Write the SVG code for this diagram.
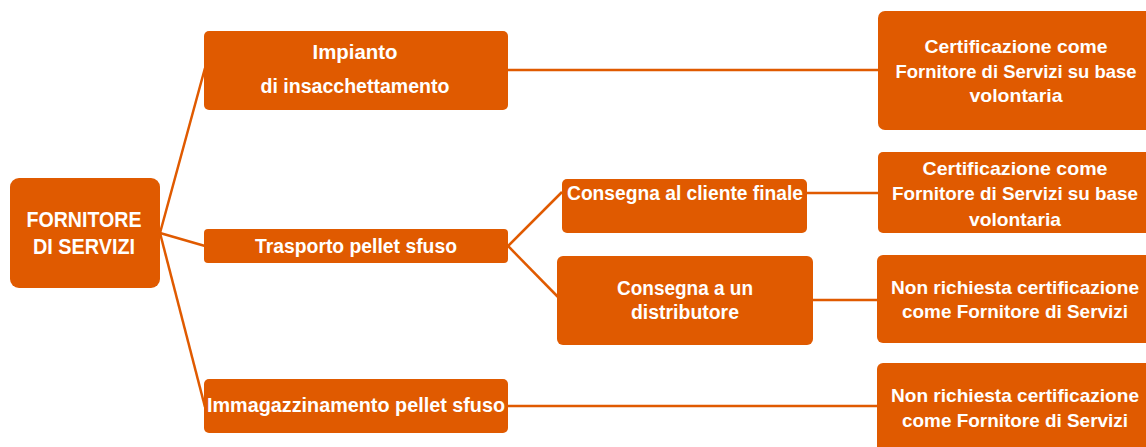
<svg xmlns="http://www.w3.org/2000/svg" width="1146" height="447" viewBox="0 0 1146 447">
<style>
.box{fill:#E05A00;}
.t{font-family:"Liberation Sans",Arial,sans-serif;font-weight:bold;font-size:20px;fill:#FFFFFF;text-anchor:middle;}
.big{font-size:22px;}
.r{font-size:18.5px;}
.ln{stroke:#E05A00;stroke-width:2.5;fill:none;}
</style>
<rect width="1146" height="447" fill="#FFFFFF"/>
<g id="connectors">
<line class="ln" x1="160" y1="233" x2="205" y2="68"/>
<line class="ln" x1="160" y1="233" x2="205" y2="246"/>
<line class="ln" x1="160" y1="233" x2="205" y2="407"/>
<line class="ln" x1="508" y1="246" x2="562" y2="192"/>
<line class="ln" x1="508" y1="246" x2="558" y2="297"/>
<line class="ln" x1="508" y1="70" x2="879" y2="70"/>
<line class="ln" x1="807" y1="193" x2="879" y2="193"/>
<line class="ln" x1="813" y1="300" x2="878" y2="300"/>
<line class="ln" x1="508" y1="406" x2="878" y2="406"/>
</g>
<g id="root">
<rect class="box" x="10" y="178" width="150" height="110" rx="9"/>
<text class="t big" x="84" y="227" textLength="115" lengthAdjust="spacingAndGlyphs">FORNITORE</text>
<text class="t big" x="84" y="254" textLength="102" lengthAdjust="spacingAndGlyphs">DI SERVIZI</text>
</g>
<g id="impianto">
<rect class="box" x="204" y="31" width="304" height="79" rx="5"/>
<text class="t" x="355" y="59" textLength="85" lengthAdjust="spacingAndGlyphs">Impianto</text>
<text class="t" x="355" y="93" textLength="189" lengthAdjust="spacingAndGlyphs">di insacchettamento</text>
</g>
<g id="trasporto">
<rect class="box" x="204" y="229" width="304" height="34" rx="4"/>
<text class="t" x="356" y="253" textLength="202" lengthAdjust="spacingAndGlyphs">Trasporto pellet sfuso</text>
</g>
<g id="immagazzinamento">
<rect class="box" x="204" y="379" width="304" height="54" rx="5"/>
<text class="t" x="356" y="412" textLength="298" lengthAdjust="spacingAndGlyphs">Immagazzinamento pellet sfuso</text>
</g>
<g id="consegna-cliente">
<rect class="box" x="562" y="179" width="245" height="54" rx="5"/>
<text class="t" x="685" y="200" textLength="236" lengthAdjust="spacingAndGlyphs">Consegna al cliente finale</text>
</g>
<g id="consegna-distributore">
<rect class="box" x="557" y="256" width="256" height="89" rx="6"/>
<text class="t" x="685" y="295" textLength="136" lengthAdjust="spacingAndGlyphs">Consegna a un</text>
<text class="t" x="685" y="319" textLength="108" lengthAdjust="spacingAndGlyphs">distributore</text>
</g>
<g id="cert-1">
<rect class="box" x="878" y="11" width="290" height="119" rx="7"/>
<text class="t r" x="1016" y="53" textLength="183" lengthAdjust="spacingAndGlyphs">Certificazione come</text>
<text class="t r" x="1016" y="78" textLength="241" lengthAdjust="spacingAndGlyphs">Fornitore di Servizi su base</text>
<text class="t r" x="1016" y="102" textLength="93" lengthAdjust="spacingAndGlyphs">volontaria</text>
</g>
<g id="cert-2">
<rect class="box" x="878" y="152" width="290" height="81" rx="5"/>
<text class="t r" x="1015" y="175" textLength="185" lengthAdjust="spacingAndGlyphs">Certificazione come</text>
<text class="t r" x="1015" y="200" textLength="246" lengthAdjust="spacingAndGlyphs">Fornitore di Servizi su base</text>
<text class="t r" x="1015" y="226" textLength="92" lengthAdjust="spacingAndGlyphs">volontaria</text>
</g>
<g id="non-richiesta-1">
<rect class="box" x="877" y="255" width="290" height="88" rx="6"/>
<text class="t r" x="1015" y="294" textLength="248" lengthAdjust="spacingAndGlyphs">Non richiesta certificazione</text>
<text class="t r" x="1015" y="318" textLength="226" lengthAdjust="spacingAndGlyphs">come Fornitore di Servizi</text>
</g>
<g id="non-richiesta-2">
<rect class="box" x="877" y="363" width="290" height="100" rx="6"/>
<text class="t r" x="1015" y="402" textLength="248" lengthAdjust="spacingAndGlyphs">Non richiesta certificazione</text>
<text class="t r" x="1015" y="427" textLength="226" lengthAdjust="spacingAndGlyphs">come Fornitore di Servizi</text>
</g>
</svg>
